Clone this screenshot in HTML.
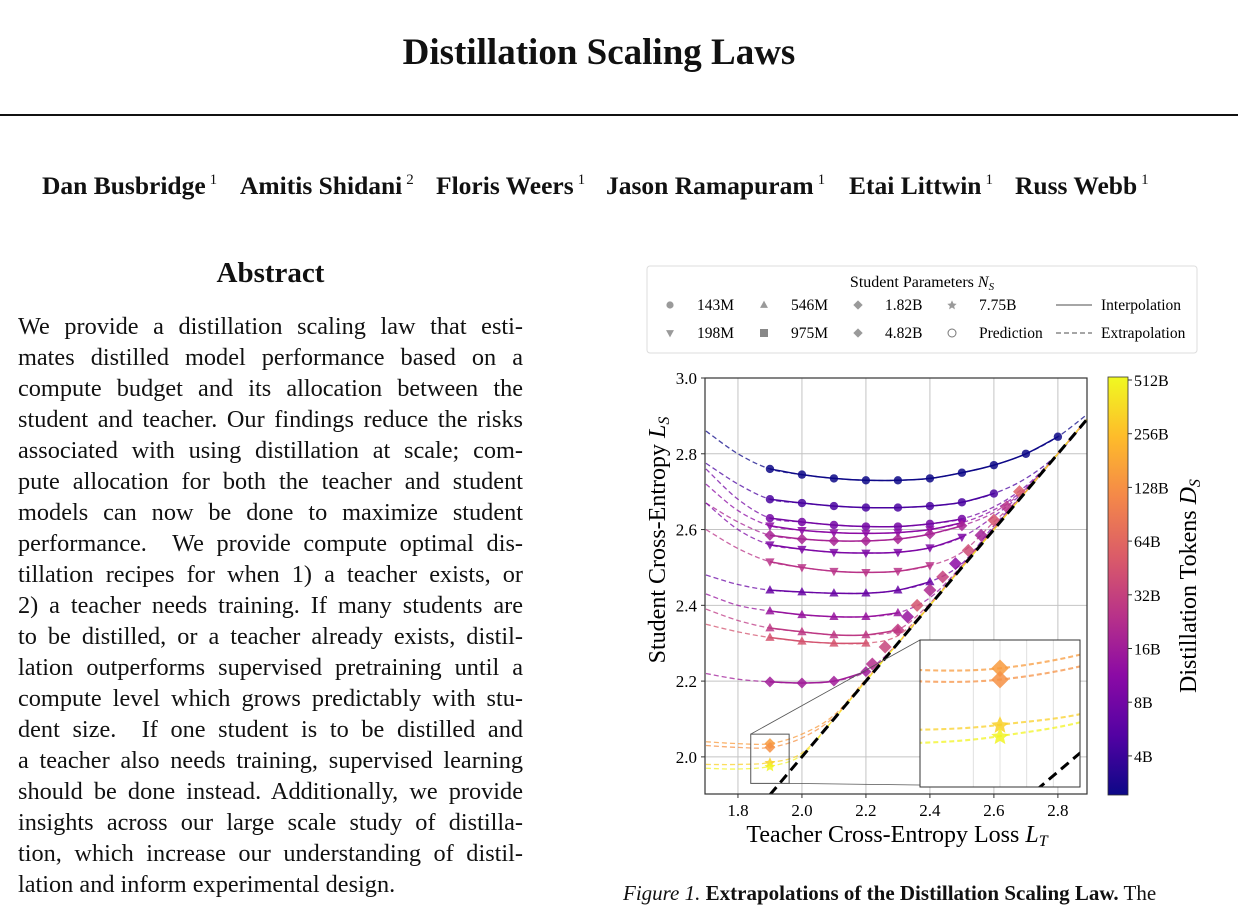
<!DOCTYPE html>
<html><head><meta charset="utf-8"><style>
body{margin:0;background:#fff;width:1238px;height:910px;overflow:hidden;position:relative;font-family:"Liberation Serif",serif;color:#111}
.abs{position:absolute;white-space:nowrap}
#title{left:0;width:1198px;text-align:center;top:31px;font-size:37px;font-weight:bold}
#rule{position:absolute;left:0;top:114px;width:1238px;height:2px;background:#111}
.au{position:absolute;top:171px;font-size:25.5px;font-weight:bold;white-space:nowrap}
.au sup{font-weight:normal;font-size:15px;vertical-align:10px;margin-left:4px}
#abs-h{left:18px;width:505px;text-align:center;top:257px;font-size:29px;font-weight:bold}
.ln{position:absolute;left:18px;width:505px;font-size:24.3px;text-align:justify;text-align-last:justify;white-space:nowrap;line-height:1}
.ln.last{text-align-last:left}
#cap{left:623px;top:881px;font-size:21px}
svg text{font-family:"Liberation Serif",serif}
</style></head><body>
<div class="abs" id="title">Distillation Scaling Laws</div>
<div id="rule"></div>
<div class="au" style="left:42px">Dan Busbridge<sup>1</sup></div>
<div class="au" style="left:240px">Amitis Shidani<sup>2</sup></div>
<div class="au" style="left:436px">Floris Weers<sup>1</sup></div>
<div class="au" style="left:606px">Jason Ramapuram<sup>1</sup></div>
<div class="au" style="left:849px">Etai Littwin<sup>1</sup></div>
<div class="au" style="left:1015px">Russ Webb<sup>1</sup></div>
<div class="abs" id="abs-h">Abstract</div>
<div id="abstract">
<div class="ln" style="top:315px">We provide a distillation scaling law that esti-</div>
<div class="ln" style="top:346px">mates distilled model performance based on a</div>
<div class="ln" style="top:377px">compute budget and its allocation between the</div>
<div class="ln" style="top:408px">student and teacher. Our findings reduce the risks</div>
<div class="ln" style="top:439px">associated with using distillation at scale; com-</div>
<div class="ln" style="top:470px">pute allocation for both the teacher and student</div>
<div class="ln" style="top:501px">models can now be done to maximize student</div>
<div class="ln" style="top:532px">performance. &nbsp;We provide compute optimal dis-</div>
<div class="ln" style="top:563px">tillation recipes for when 1) a teacher exists, or</div>
<div class="ln" style="top:594px">2) a teacher needs training. If many students are</div>
<div class="ln" style="top:625px">to be distilled, or a teacher already exists, distil-</div>
<div class="ln" style="top:656px">lation outperforms supervised pretraining until a</div>
<div class="ln" style="top:687px">compute level which grows predictably with stu-</div>
<div class="ln" style="top:718px">dent size. &nbsp;If one student is to be distilled and</div>
<div class="ln" style="top:749px">a teacher also needs training, supervised learning</div>
<div class="ln" style="top:780px">should be done instead. Additionally, we provide</div>
<div class="ln" style="top:811px">insights across our large scale study of distilla-</div>
<div class="ln" style="top:842px">tion, which increase our understanding of distil-</div>
<div class="ln last" style="top:873px">lation and inform experimental design.</div>
</div>
<div class="abs" id="cap"><i>Figure 1.</i> <b>Extrapolations of the Distillation Scaling Law.</b> The</div>

<svg id="chart" width="1238" height="910" style="position:absolute;left:0;top:0"></svg>
<script>
const xGrid=[1.7,1.8,1.9,2.0,2.1,2.2,2.3,2.4,2.5,2.6,2.7,2.8,2.9];
const c1=[2.86,2.80,2.76,2.745,2.735,2.73,2.73,2.735,2.75,2.77,2.80,2.845,2.91];
const c2=[2.775,2.72,2.68,2.67,2.662,2.658,2.658,2.662,2.672,2.695,2.735,2.80,2.90];
const c3=[2.76,2.68,2.63,2.62,2.612,2.608,2.608,2.615,2.628,2.66,2.715,2.80,2.90];
const c4=[2.72,2.65,2.61,2.598,2.592,2.59,2.592,2.60,2.618,2.652,2.71,2.80,2.90];
const c5=[2.67,2.62,2.585,2.575,2.57,2.57,2.575,2.588,2.61,2.645,2.708,2.80,2.90];
const c6=[2.67,2.60,2.56,2.548,2.54,2.538,2.54,2.552,2.58,2.635,2.705,2.80,2.90];
const c7=[2.60,2.55,2.515,2.50,2.49,2.487,2.49,2.505,2.54,2.62,2.70,2.80,2.90];
const c8=[2.48,2.455,2.44,2.435,2.432,2.432,2.44,2.462,2.51,2.61,2.70,2.80,2.90];
const c9=[2.43,2.40,2.385,2.375,2.37,2.37,2.38,2.42,2.505,2.605,2.70,2.80,2.90];
const c10=[2.39,2.36,2.34,2.33,2.322,2.322,2.335,2.405,2.503,2.603,2.70,2.80,2.90];
const c11=[2.35,2.33,2.315,2.305,2.30,2.30,2.32,2.40,2.502,2.602,2.70,2.80,2.90];
const c12=[2.22,2.205,2.198,2.195,2.20,2.225,2.30,2.40,2.50,2.60,2.70,2.80,2.90];
const c13=[2.04,2.035,2.035,2.06,2.11,2.205,2.30,2.40,2.50,2.60,2.70,2.80,2.90];
const c14=[2.03,2.025,2.025,2.05,2.105,2.203,2.30,2.40,2.50,2.60,2.70,2.80,2.90];
const c15=[1.98,1.98,1.985,2.01,2.10,2.20,2.30,2.40,2.50,2.60,2.70,2.80,2.90];
const c16=[1.97,1.968,1.975,2.005,2.10,2.20,2.30,2.40,2.50,2.60,2.70,2.80,2.90];
const seriesList=[c1,c2,c3,c4,c5,c6,c7,c8,c9,c10,c11,c12,c13,c14,c15,c16];
const seriesTokens=[2,4,7,10,16,8,22,6,12,24,40,14,140,120,300,480];
const seriesShapes=['circle','circle','circle','tri-down','diamond','tri-down','tri-down','tri-up','tri-up','tri-up','tri-up','diamond','diamond','diamond','star','star'];
const markerFrom=[2,2,2,2,2,2,2,2,2,2,2,2,2,2,2,2];
const markerTo=[11,9,8,8,8,8,7,7,6,6,5,5,2,2,2,2];
const diagX=[2.22,2.26,2.3,2.33,2.36,2.4,2.44,2.48,2.52,2.56,2.6,2.64,2.68];
const diagY=[2.245,2.29,2.335,2.37,2.40,2.44,2.475,2.51,2.545,2.585,2.625,2.66,2.70];
const diagTokens=[20,30,25,12,40,18,28,10,35,15,40,22,50];
const xTicks=[1.8,2.0,2.2,2.4,2.6,2.8];
const xTickLabels=['1.8','2.0','2.2','2.4','2.6','2.8'];
const yTicks=[2.0,2.2,2.4,2.6,2.8,3.0];
const yTickLabels=['2.0','2.2','2.4','2.6','2.8','3.0'];
const cbTicks=[512,256,128,64,32,16,8,4];
const cbTickLabels=['512B','256B','128B','64B','32B','16B','8B','4B'];

const NS='http://www.w3.org/2000/svg';
const svg=document.getElementById('chart');
const P={l:705,r:1087,t:378,b:794};
const X0=1.697,X1=2.891,Y0=1.902,Y1=3.0;
const sx=v=>P.l+(v-X0)/(X1-X0)*(P.r-P.l);
const sy=v=>P.b-(v-Y0)/(Y1-Y0)*(P.b-P.t);
const plasma=['#0d0887','#5302a3','#8b0aa5','#b83289','#db5c68','#f48849','#febc2a','#f0f921'];
function colorFor(t){let f=Math.log2(t/2)/Math.log2(512/2);f=Math.max(0,Math.min(1,f));const p=f*(plasma.length-1),i=Math.min(plasma.length-2,Math.floor(p)),k=p-i;const a=plasma[i],b=plasma[i+1];const h=(s,j)=>parseInt(s.substr(j,2),16);let o='#';for(const j of [1,3,5]){o+=Math.round(h(a,j)+(h(b,j)-h(a,j))*k).toString(16).padStart(2,'0');}return o;}
function el(tag,attrs,parent){const e=document.createElementNS(NS,tag);for(const k in attrs)e.setAttribute(k,attrs[k]);(parent||svg).appendChild(e);return e;}
function pathFrom(pts){if(pts.length<2)return '';let d='M'+pts[0][0]+','+pts[0][1];for(let i=0;i<pts.length-1;i++){const p0=pts[i-1]||pts[i],p1=pts[i],p2=pts[i+1],p3=pts[i+2]||p2;const c1x=p1[0]+(p2[0]-p0[0])/6,c1y=p1[1]+(p2[1]-p0[1])/6,c2x=p2[0]-(p3[0]-p1[0])/6,c2y=p2[1]-(p3[1]-p1[1])/6;d+=`C${c1x},${c1y} ${c2x},${c2y} ${p2[0]},${p2[1]}`;}return d;}
function marker(shape,x,y,r,fill,parent){let e;
 if(shape==='circle')e=el('circle',{cx:x,cy:y,r:r},parent);
 else if(shape==='tri-up')e=el('polygon',{points:`${x},${y-r*1.2} ${x-r*1.1},${y+r*.8} ${x+r*1.1},${y+r*.8}`},parent);
 else if(shape==='tri-down')e=el('polygon',{points:`${x},${y+r*1.2} ${x-r*1.1},${y-r*.8} ${x+r*1.1},${y-r*.8}`},parent);
 else if(shape==='diamond')e=el('polygon',{points:`${x},${y-r*1.3} ${x+r*1.3},${y} ${x},${y+r*1.3} ${x-r*1.3},${y}`},parent);
 else e=el('polygon',{points:`${x},${y-r*1.3} ${x+r*.4},${y-r*.4} ${x+r*1.3},${y-r*.3} ${x+r*.6},${y+r*.3} ${x+r*.8},${y+r*1.2} ${x},${y+r*.7} ${x-r*.8},${y+r*1.2} ${x-r*.6},${y+r*.3} ${x-r*1.3},${y-r*.3} ${x-r*.4},${y-r*.4}`},parent);
 e.setAttribute('fill',fill);e.setAttribute('opacity','0.85');return e;}

const defs=el('defs',{});
const cp=el('clipPath',{id:'plotclip'},defs);el('rect',{x:P.l,y:P.t,width:P.r-P.l,height:P.b-P.t},cp);
const IN={l:920,r:1080,t:640,b:787};
const cp2=el('clipPath',{id:'insetclip'},defs);el('rect',{x:IN.l,y:IN.t,width:IN.r-IN.l,height:IN.b-IN.t},cp2);
const lg=el('linearGradient',{id:'cbgrad',x1:0,y1:1,x2:0,y2:0},defs);
plasma.forEach((c,i)=>el('stop',{offset:i/(plasma.length-1),'stop-color':c},lg));

const leg=el('g',{});

el('rect',{x:647,y:266,width:550,height:87,rx:3,fill:'#fff',stroke:'#ddd'},leg);
const lt=el('text',{x:922,y:287,'font-size':16,'text-anchor':'middle'},leg);lt.innerHTML='Student Parameters <tspan font-style="italic">N</tspan><tspan font-style="italic" font-size="11" dy="3">S</tspan>';
const legEntries=[['circle',670,310,'143M'],['tri-up',764,310,'546M'],['diamond',858,310,'1.82B'],['star',952,310,'7.75B'],['tri-down',670,338,'198M'],['square',764,338,'975M'],['diamond',858,338,'4.82B'],['open',952,338,'Prediction']];
legEntries.forEach(e=>{const g=el('g',{},leg);
 if(e[0]==='square')el('rect',{x:e[1]-4,y:e[2]-9,width:8,height:8,fill:'#888'},g);
 else if(e[0]==='open')el('circle',{cx:e[1],cy:e[2]-5,r:4,fill:'none',stroke:'#777'},g);
 else marker(e[0],e[1],e[2]-5,3.6,'#888',g);
 const t=el('text',{x:e[1]+27,y:e[2],'font-size':15.5},g);t.textContent=e[3];});
el('line',{x1:1056,y1:305,x2:1092,y2:305,stroke:'#888','stroke-width':1.5},leg);
el('line',{x1:1056,y1:333,x2:1092,y2:333,stroke:'#888','stroke-width':1.5,'stroke-dasharray':'5,3'},leg);
let t1=el('text',{x:1101,y:310,'font-size':15.5},leg);t1.textContent='Interpolation';
let t2=el('text',{x:1101,y:338,'font-size':15.5},leg);t2.textContent='Extrapolation';

const grid=el('g',{});
xTicks.forEach(v=>el('line',{x1:sx(v),x2:sx(v),y1:P.t,y2:P.b,stroke:'#c4c4c4','stroke-width':1},grid));
yTicks.forEach(v=>el('line',{x1:P.l,x2:P.r,y1:sy(v),y2:sy(v),stroke:'#c4c4c4','stroke-width':1},grid));

function drawSeries(parent,fx,fy,scale){
 seriesList.forEach((s,si)=>{const col=colorFor(seriesTokens[si]);const g=el('g',{},parent);
  
  const pts=s.map((v,i)=>[fx(xGrid[i]),fy(v)]);const a=markerFrom[si],b=markerTo[si];
  el('path',{d:pathFrom(pts),fill:'none',stroke:col,'stroke-width':1.3*scale,'stroke-dasharray':'5,3',opacity:0.75},g);
  if(b>a)el('path',{d:pathFrom(pts.slice(a,b+1)),fill:'none',stroke:col,'stroke-width':1.5*scale},g);
  for(let i=a;i<=b;i++){const m=marker(seriesShapes[si],fx(xGrid[i]),fy(s[i]),4.2*scale,col,g);}
 });
 diagX.forEach((x,i)=>{const m=marker('diamond',fx(x),fy(diagY[i]),5*scale,colorFor(diagTokens[i]),parent);});
}
const main=el('g',{'clip-path':'url(#plotclip)'});
drawSeries(main,sx,sy,1);
const diag=el('line',{x1:sx(1.9),y1:sy(1.9),x2:sx(2.9),y2:sy(2.9),stroke:'#000','stroke-width':3,'stroke-dasharray':'10,6'},main);


const IX0=1.84,IX1=1.96,IY0=1.93,IY1=2.06;
const ix=v=>IN.l+(v-IX0)/(IX1-IX0)*(IN.r-IN.l), iy=v=>IN.b-(v-IY0)/(IY1-IY0)*(IN.b-IN.t);
el('line',{x1:sx(IX0),y1:sy(IY1),x2:IN.l,y2:IN.t,stroke:'#555','stroke-width':0.8});
el('line',{x1:sx(IX1),y1:sy(IY0),x2:IN.r,y2:IN.b,stroke:'#555','stroke-width':0.8});
el('rect',{x:sx(IX0),y:sy(IY1),width:sx(IX1)-sx(IX0),height:sy(IY0)-sy(IY1),fill:'none',stroke:'#555','stroke-width':1});
const inset=el('g',{});
el('rect',{x:IN.l,y:IN.t,width:IN.r-IN.l,height:IN.b-IN.t,fill:'#fff'},inset);
const ing=el('g',{'clip-path':'url(#insetclip)'},inset);
[1.88,1.9,1.92,1.94].forEach(v=>el('line',{x1:ix(v),x2:ix(v),y1:IN.t,y2:IN.b,stroke:'#e0e0e0'},ing));
drawSeries(ing,ix,iy,1.6);
el('line',{x1:ix(1.9),y1:iy(1.9),x2:ix(2.0),y2:iy(2.0),stroke:'#000','stroke-width':3,'stroke-dasharray':'10,6'},ing);
el('rect',{x:IN.l,y:IN.t,width:IN.r-IN.l,height:IN.b-IN.t,fill:'none',stroke:'#333','stroke-width':1},inset);

el('rect',{x:P.l,y:P.t,width:P.r-P.l,height:P.b-P.t,fill:'none',stroke:'#333','stroke-width':1.2});
const xa=el('g',{});
xTicks.forEach((v,i)=>{el('line',{x1:sx(v),x2:sx(v),y1:P.b,y2:P.b+4,stroke:'#333'},xa);const t=el('text',{x:sx(v),y:P.b+22,'font-size':17,'text-anchor':'middle'},xa);t.textContent=xTickLabels[i];});
const ya=el('g',{});
yTicks.forEach((v,i)=>{el('line',{x1:P.l-4,x2:P.l,y1:sy(v),y2:sy(v),stroke:'#333'},ya);const t=el('text',{x:P.l-8,y:sy(v)+6,'font-size':17,'text-anchor':'end'},ya);t.textContent=yTickLabels[i];});
const xl=el('text',{x:897,y:842,'font-size':24,'text-anchor':'middle'});xl.innerHTML='Teacher Cross-Entropy Loss <tspan font-style="italic">L</tspan><tspan font-style="italic" font-size="16" dy="4">T</tspan>';

const yl=el('text',{x:0,y:0,'font-size':24,'text-anchor':'middle',transform:'translate(665,540) rotate(-90)'});yl.innerHTML='Student Cross-Entropy <tspan font-style="italic">L</tspan><tspan font-style="italic" font-size="16" dy="4">S</tspan>';


const cb=el('g',{});
const CB={l:1108,r:1128,t:377,b:795};
el('rect',{x:CB.l,y:CB.t,width:CB.r-CB.l,height:CB.b-CB.t,fill:'url(#cbgrad)',stroke:'#333','stroke-width':0.8},cb);
const cby=v=>380+Math.log2(512/v)*53.7;
cbTicks.forEach((v,i)=>{el('line',{x1:CB.r,x2:CB.r+4,y1:cby(v),y2:cby(v),stroke:'#333'},cb);const t=el('text',{x:CB.r+6,y:cby(v)+6,'font-size':16},cb);t.textContent=cbTickLabels[i];});
const cl=el('text',{x:0,y:0,'font-size':24,'text-anchor':'middle',transform:'translate(1196,586) rotate(-90)'},cb);cl.innerHTML='Distillation Tokens <tspan font-style="italic">D</tspan><tspan font-style="italic" font-size="16" dy="4">S</tspan>';
</script>
</body></html>
